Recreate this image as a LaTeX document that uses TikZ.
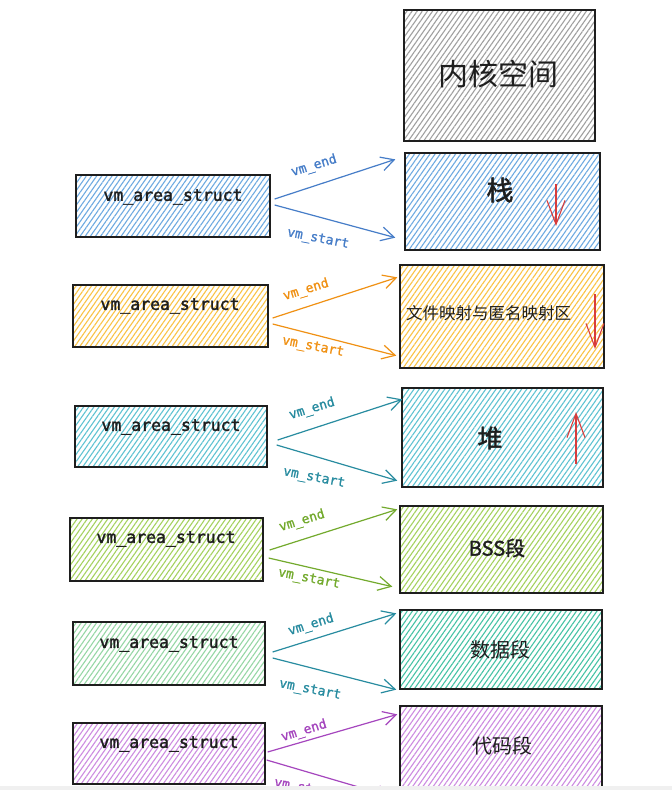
\documentclass[tikz,border=0pt]{standalone}
\usepackage{fontspec}
\setmainfont{Noto Sans CJK SC}
\newfontfamily\cjkfont{Noto Sans CJK SC}
\newfontfamily\cjkmed[FakeBold=1.6]{Noto Sans CJK SC}
\newfontfamily\codefont[FakeBold=1.8]{DejaVu Sans Mono}
\newfontfamily\labfont[FakeBold=1.2]{DejaVu Sans Mono}
\usetikzlibrary{patterns.meta,arrows.meta}
\definecolor{ink}{HTML}{1E1E1E}
\definecolor{hgray}{RGB}{160,160,160}
\definecolor{hblue}{RGB}{110,170,225}
\definecolor{sblue}{RGB}{70,125,200}
\definecolor{hyel}{RGB}{250,195,70}
\definecolor{sorange}{RGB}{240,145,20}
\definecolor{hcyan}{RGB}{95,195,210}
\definecolor{scyan}{RGB}{40,140,160}
\definecolor{hgreen}{RGB}{165,210,95}
\definecolor{sgreen}{RGB}{115,170,45}
\definecolor{hmint}{RGB}{150,215,165}
\definecolor{hteal}{RGB}{70,195,165}
\definecolor{hpurple}{RGB}{205,140,225}
\definecolor{spurple}{RGB}{165,70,190}
\definecolor{sred}{RGB}{215,60,60}
\tikzset{
  x=1pt, y=-1pt,
  boxnode/.style={draw=ink, line width=1.3pt, rectangle, inner sep=0pt},
  hatch/.style={pattern={Lines[angle=55,distance=4.2pt,line width=1.1pt]}, pattern color=#1},
  codetxt/.style={text=ink, font=\codefont\fontsize{16.5}{18}\selectfont},
  bigtxt/.style={text=ink, font=\cjkfont\fontsize{#1}{#1}\selectfont, inner sep=0pt},
  boldtxt/.style={text=ink, font=\cjkmed\fontsize{#1}{#1}\selectfont, inner sep=0pt},
  lab/.style={text=#1, font=\labfont\fontsize{13}{14}\selectfont, inner sep=0pt},
  arr/.style={draw=#1, line width=1.2pt, -{Straight Barb[length=13pt,width=14pt,line width=1.2pt]}},
  redarr/.style={draw=sred, line width=1.1pt, -{Straight Barb[length=24pt,width=18pt,line width=1.1pt]}}
}
\begin{document}
\begin{tikzpicture}
\useasboundingbox (0,0) rectangle (672,790);
\fill[white] (0,0) rectangle (672,790);
\begin{scope}
\clip (0,0) rectangle (672,786);
% right column
\node[boxnode, hatch=hgray, minimum width=191pt, minimum height=131pt] (r0) at (499.5,75.5) {};
\node[boxnode, hatch=hblue, minimum width=195pt, minimum height=97pt] (r1) at (502.5,201.5) {};
\node[boxnode, hatch=hyel, minimum width=204pt, minimum height=103pt] (r2) at (502,316.5) {};
\node[boxnode, hatch=hcyan, minimum width=201pt, minimum height=99pt] (r3) at (502.5,437.5) {};
\node[boxnode, hatch=hgreen, minimum width=203pt, minimum height=87pt] (r4) at (501.5,549.5) {};
\node[boxnode, hatch=hteal, minimum width=202pt, minimum height=79pt] (r5) at (501,649.5) {};
\node[boxnode, hatch=hpurple, minimum width=202pt, minimum height=114pt] (r6) at (501,763) {};
\node[bigtxt=30] (t0) at (498,74) {内核空间};
\node[boldtxt=27] (t1) at (500,190) {栈};
\node[bigtxt=16.5, anchor=west] (t2) at (406,313) {文件映射与匿名映射区};
\node[boldtxt=25] (t3) at (490,438) {堆};
\node[boldtxt=20] (t4) at (497,548) {BSS段};
\node[bigtxt=20] (t5) at (500,650) {数据段};
\node[bigtxt=20] (t6) at (502,746) {代码段};
% red direction arrows
\coordinate (a1s) at (556,184); \coordinate (a1e) at (556,226);
\coordinate (a2s) at (595,294); \coordinate (a2e) at (595,349);
\coordinate (a3s) at (576,464); \coordinate (a3e) at (576,412);
\draw[redarr] (a1s) -- (a1e);
\draw[redarr] (a2s) -- (a2e);
\draw[redarr] (a3s) -- (a3e);
% left column
\node[boxnode, hatch=hblue, minimum width=194pt, minimum height=62pt] (l1) at (173,206) {};
\node[boxnode, hatch=hyel, minimum width=195pt, minimum height=62pt] (l2) at (170.5,316) {};
\node[boxnode, hatch=hcyan, minimum width=192pt, minimum height=61pt] (l3) at (171,436.5) {};
\node[boxnode, hatch=hgreen, minimum width=193pt, minimum height=63pt] (l4) at (166.5,549.5) {};
\node[boxnode, hatch=hmint, minimum width=192pt, minimum height=63pt] (l5) at (169,653.5) {};
\node[boxnode, hatch=hpurple, minimum width=192pt, minimum height=61pt] (l6) at (169,753.5) {};
\node[codetxt] (c1) at (173,197) {vm\_area\_struct};
\node[codetxt] (c2) at (170,306) {vm\_area\_struct};
\node[codetxt] (c3) at (171,427) {vm\_area\_struct};
\node[codetxt] (c4) at (166,539) {vm\_area\_struct};
\node[codetxt] (c5) at (169,644) {vm\_area\_struct};
\node[codetxt] (c6) at (169,744) {vm\_area\_struct};
% connectors
\draw[arr=sblue] ([shift={(4,-7)}]l1.east) -- ([shift={(-9,7)}]r1.north west);
\draw[arr=sblue] ([shift={(4,-1)}]l1.east) -- ([shift={(-9,-13)}]r1.south west);
\draw[arr=sorange] ([shift={(4,2)}]l2.east) -- ([shift={(-2,13)}]r2.north west);
\draw[arr=sorange] ([shift={(4,8)}]l2.east) -- ([shift={(-3,-13)}]r2.south west);
\draw[arr=scyan] ([shift={(10,3.5)}]l3.east) -- ([shift={(1,12)}]r3.north west);
\draw[arr=scyan] ([shift={(9,8.5)}]l3.east) -- ([shift={(-4,-7)}]r3.south west);
\draw[arr=sgreen] ([shift={(6,0.5)}]l4.east) -- ([shift={(-2,4)}]r4.north west);
\draw[arr=sgreen] ([shift={(5,8.5)}]l4.east) -- ([shift={(-7,-7)}]r4.south west);
\draw[arr=scyan] ([shift={(7,-1.5)}]l5.east) -- ([shift={(-3,4)}]r5.north west);
\draw[arr=scyan] ([shift={(7,4.5)}]l5.east) -- ([shift={(-3,0)}]r5.south west);
\draw[arr=spurple] ([shift={(2,-1.5)}]l6.east) -- ([shift={(-2,9)}]r6.north west);
\draw[arr=spurple] ([shift={(1,6.5)}]l6.east) -- ([shift={(-8,-24)}]r6.south west);
% labels
\node[lab=sblue, rotate=17] (e1) at (314,166) {vm\_end};
\node[lab=sblue, rotate=-11] (s1) at (318,239) {vm\_start};
\node[lab=sorange, rotate=17] (e2) at (306,290) {vm\_end};
\node[lab=sorange, rotate=-11] (s2) at (313,347) {vm\_start};
\node[lab=scyan, rotate=17] (e3) at (312,409) {vm\_end};
\node[lab=scyan, rotate=-11] (s3) at (314,478) {vm\_start};
\node[lab=sgreen, rotate=17] (e4) at (302,521) {vm\_end};
\node[lab=sgreen, rotate=-11] (s4) at (309,579) {vm\_start};
\node[lab=scyan, rotate=17] (e5) at (311,625) {vm\_end};
\node[lab=scyan, rotate=-11] (s5) at (310,690) {vm\_start};
\node[lab=spurple, rotate=17] (e6) at (304,731) {vm\_end};
\node[lab=spurple, rotate=-11] (s6) at (305,789) {vm\_start};
\end{scope}
\fill[gray!12] (0,786) rectangle (672,790);
\end{tikzpicture}
\end{document}
